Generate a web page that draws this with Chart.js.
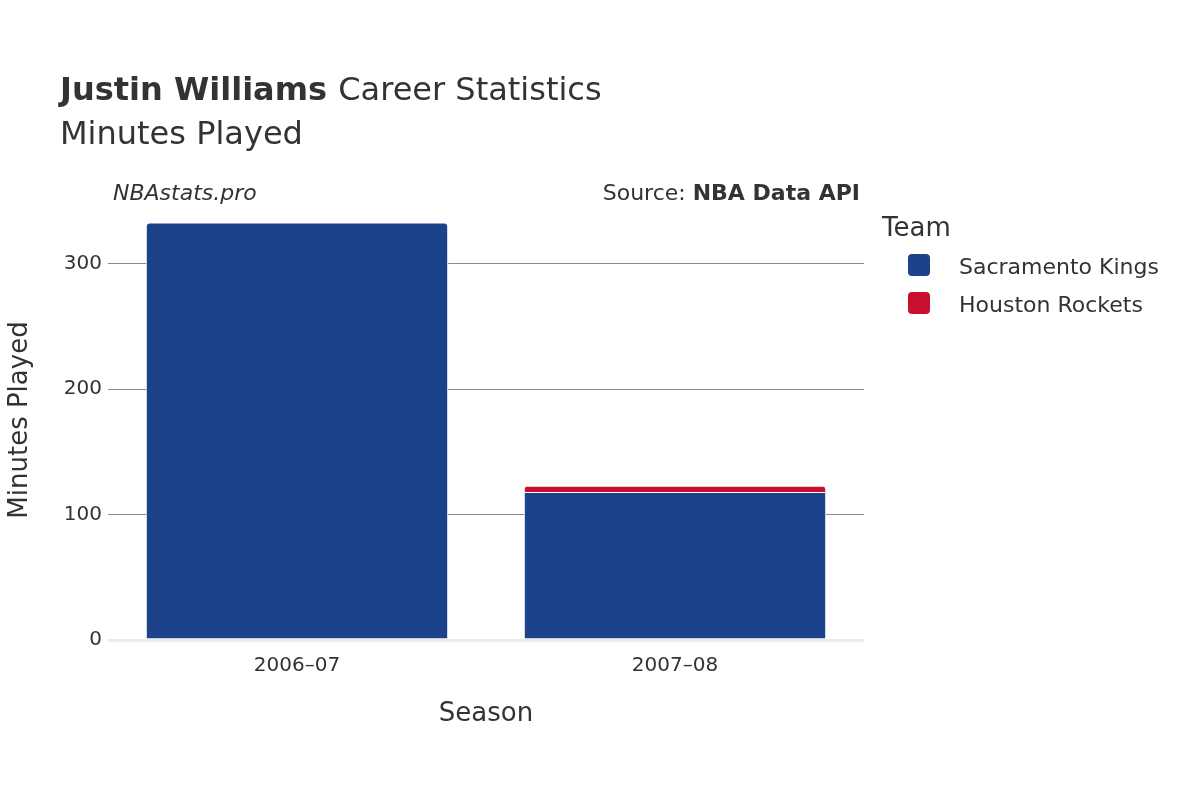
<!DOCTYPE html>
<html>
<head>
<meta charset="utf-8">
<script src="https://cdn.jsdelivr.net/npm/chart.js@4"></script>
<style>body{margin:0;background:#fff}</style>
</head>
<body>
<canvas id="c" width="1200" height="800" style="width:1200px;height:800px"></canvas>
<script>
const seasons = ['2006\u201307', '2007\u201308'];
const teams = ['Sacramento Kings', 'Houston Rockets'];
const teamColors = ['#1c428a', '#c8102e'];
const kingsMin = [333, 118];
const rocketsMin = [0, 5];
const yTicks = [0, 100, 200, 300];

const FONT = '"DejaVu Sans", sans-serif';

const textPlugin = {
  id: 'texts',
  afterDraw(chart) {
    const ctx = chart.ctx;
    ctx.save();
    ctx.fillStyle = '#333';
    ctx.textBaseline = 'alphabetic';
    ctx.font = 'bold 32px ' + FONT;
    ctx.fillText('Justin Williams', 60, 100);
    let w = ctx.measureText('Justin Williams ').width;
    ctx.font = '32px ' + FONT;
    ctx.fillText('Career Statistics', 60 + w, 100);
    ctx.fillText('Minutes Played', 60, 144);
    ctx.font = 'italic 22px ' + FONT;
    ctx.fillText('NBAstats.pro', 113, 200);
    ctx.textAlign = 'right';
    ctx.font = 'bold 22px ' + FONT;
    ctx.fillText('NBA Data API', 860, 200);
    let bw = ctx.measureText('NBA Data API').width;
    ctx.font = '22px ' + FONT;
    ctx.fillText('Source: ', 860 - bw, 200);
    ctx.textAlign = 'center';
    ctx.font = '26px ' + FONT;
    ctx.fillText('Season', 486, 721);
    ctx.save();
    ctx.translate(27, 420);
    ctx.rotate(-Math.PI / 2);
    ctx.fillText('Minutes Played', 0, 0);
    ctx.restore();
    ctx.textAlign = 'left';
    ctx.fillText('Team', 882, 236);
    ctx.font = '22px ' + FONT;
    teams.forEach((t, i) => {
      const y = 266 + i * 38;
      ctx.fillStyle = teamColors[i];
      ctx.beginPath();
      ctx.roundRect(908, y - 12, 22, 22, 4);
      ctx.fill();
      ctx.fillStyle = '#333';
      ctx.fillText(t, 959, y + 8);
    });
    ctx.restore();
  }
};

new Chart('c', {
  type: 'bar',
  data: {
    labels: seasons,
    datasets: [
      { label: teams[0], data: kingsMin, backgroundColor: teamColors[0], borderColor: '#fff', borderWidth: 1, borderRadius: 4, borderSkipped: 'bottom' },
      { label: teams[1], data: rocketsMin, backgroundColor: teamColors[1], borderColor: '#fff', borderWidth: 1, borderRadius: 4, borderSkipped: 'bottom' }
    ]
  },
  options: {
    responsive: false,
    animation: false,
    layout: { padding: { top: 205, right: 336, left: 0, bottom: 0 } },
    plugins: { legend: { display: false }, tooltip: { enabled: false } },
    datasets: { bar: { categoryPercentage: 1, barPercentage: 0.8 } },
    scales: {
      x: {
        stacked: true,
        grid: { display: false },
        border: { display: false },
        ticks: { color: '#333', font: { family: FONT, size: 20 }, padding: 6 },
        afterFit(s) { s.height = 160; }
      },
      y: {
        stacked: true,
        min: 0, max: 347,
        afterBuildTicks(s) { s.ticks = yTicks.map(v => ({ value: v })); },
        grid: {
          color: ctx => ctx.tick && ctx.tick.value === 0 ? '#ebebeb' : '#8a8a8a',
          lineWidth: ctx => ctx.tick && ctx.tick.value === 0 ? 3 : 1,
          tickLength: 0
        },
        border: { display: false },
        ticks: { color: '#333', font: { family: FONT, size: 20 }, padding: 6 },
        afterFit(s) { s.width = 108; }
      }
    }
  },
  plugins: [textPlugin]
});
</script>
</body>
</html>
